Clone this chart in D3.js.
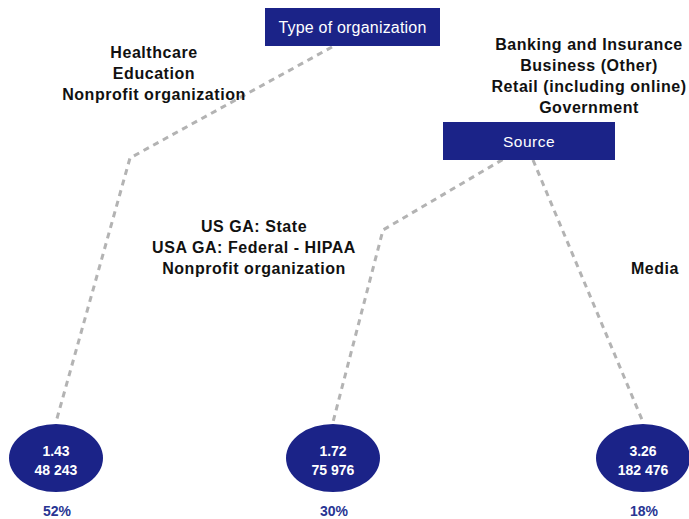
<!DOCTYPE html>
<html>
<head>
<meta charset="utf-8">
<script src="https://cdn.jsdelivr.net/npm/d3@7"></script>
<style>
  body { margin: 0; background: #fff; }
  text { font-family: "Liberation Sans", Arial, Helvetica, sans-serif; }
</style>
</head>
<body>
<script>
const width = 689;
const height = 519;

// data
const splitNames = ["Type of organization", "Source"];
const leafIds = ["A", "B", "C"];
const leafMeans = ["1.43", "1.72", "3.26"];
const leafCounts = ["48 243", "75 976", "182 476"];
const leafShares = ["52%", "30%", "18%"];

const leftLabel = ["Healthcare", "Education", "Nonprofit organization"];
const rightLabel = ["Banking and Insurance", "Business (Other)", "Retail (including online)", "Government"];
const midLabel = ["US GA: State", "USA GA: Federal - HIPAA", "Nonprofit organization"];
const farLabel = ["Media"];

const navy = "#1b2388";

const svg = d3.select("body")
    .append("svg")
    .attr("width", width)
    .attr("height", height);

// leaf horizontal placement
const leafX = d3.scaleOrdinal()
    .domain(leafIds)
    .range([56, 333, 643]);
const leafY = 458;

// split boxes
const boxes = [
    {x: 265, y: 8, w: 175, h: 38, fs: 16, ls: 0.2},
    {x: 443, y: 122, w: 172, h: 38, fs: 15.5, ls: 0.5}
];

const line = d3.line();

function dashed(pts) {
    svg.append("path")
        .attr("d", line(pts))
        .attr("fill", "none")
        .attr("stroke", "#b3b3b3")
        .attr("stroke-width", 3)
        .attr("stroke-dasharray", "6,5");
}

// branches
dashed([[332, 47], [130, 158], [leafX("A"), leafY - 36]]);
dashed([[512, 154], [383, 230], [leafX("B"), leafY - 36]]);
dashed([[533, 160], [leafX("C"), leafY - 36]]);

boxes.forEach((b, i) => {
    svg.append("rect")
        .attr("x", b.x).attr("y", b.y)
        .attr("width", b.w).attr("height", b.h)
        .attr("fill", navy);
    svg.append("text")
        .attr("x", b.x + b.w / 2)
        .attr("y", b.y + b.h / 2 + 6)
        .attr("text-anchor", "middle")
        .attr("fill", "#fff")
        .attr("font-size", b.fs)
        .attr("letter-spacing", b.ls)
        .text(splitNames[i]);
});

// condition labels
function label(lines, cx, y0, anchor) {
    const t = svg.append("text")
        .attr("text-anchor", anchor || "middle")
        .attr("font-size", 16)
        .attr("letter-spacing", 0.55)
        .attr("font-weight", "bold")
        .attr("fill", "#111");
    lines.forEach((s, i) => {
        t.append("tspan").attr("x", cx).attr("y", y0 + i * 21).text(s);
    });
}
label(leftLabel, 154, 58);
label(rightLabel, 589, 50);
label(midLabel, 254, 232);
label(farLabel, 655, 274);

// leaves
const leaves = svg.selectAll(".leaf")
    .data(leafIds)
    .join("g")
    .attr("class", "leaf");

leaves.append("ellipse")
    .attr("cx", d => leafX(d))
    .attr("cy", leafY)
    .attr("rx", 47)
    .attr("ry", 34)
    .attr("fill", navy);

leaves.append("text")
    .attr("x", d => leafX(d))
    .attr("y", leafY - 2)
    .attr("text-anchor", "middle")
    .attr("fill", "#fff")
    .attr("font-size", 14)
    .attr("font-weight", "bold")
    .text((d, i) => leafMeans[i]);

leaves.append("text")
    .attr("x", d => leafX(d))
    .attr("y", leafY + 17)
    .attr("text-anchor", "middle")
    .attr("fill", "#fff")
    .attr("font-size", 14)
    .attr("font-weight", "bold")
    .text((d, i) => leafCounts[i]);

leaves.append("text")
    .attr("x", d => leafX(d) + 1)
    .attr("y", 516)
    .attr("text-anchor", "middle")
    .attr("fill", "#283593")
    .attr("font-size", 14)
    .attr("font-weight", "bold")
    .text((d, i) => leafShares[i]);
</script>
</body>
</html>
